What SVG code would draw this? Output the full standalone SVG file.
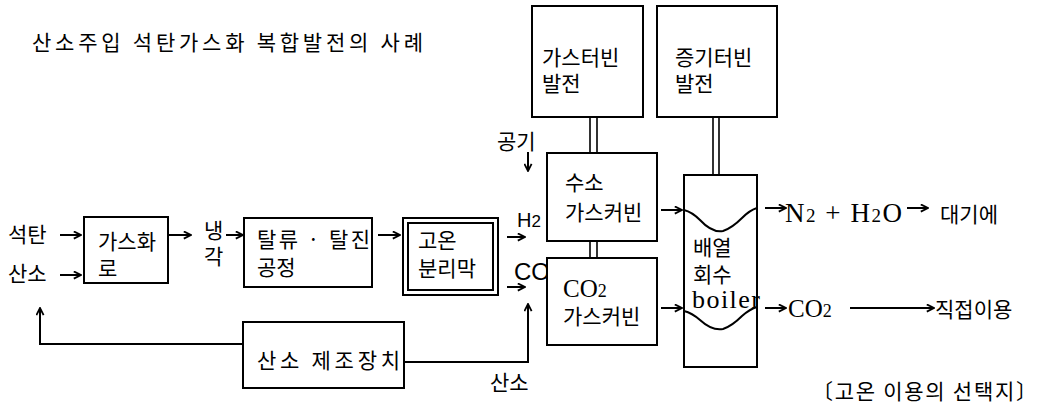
<svg xmlns="http://www.w3.org/2000/svg" width="1043" height="406" viewBox="0 0 1043 406">
<style>
.k{font-family:"Noto Sans CJK KR","Noto Sans",sans-serif;font-size:21px;fill:#000}
.s{font-family:"Liberation Serif",serif;fill:#000}
.a{font-family:"Liberation Sans",sans-serif;fill:#000}
.box{fill:#fff;stroke:#000;stroke-width:2}
.ln{fill:none;stroke:#000;stroke-width:2}
.ar{fill:none;stroke:#000;stroke-width:2;marker-end:url(#ah)}
.dl{fill:none;stroke:#000;stroke-width:1.6}
</style>
<defs>
<marker id="ah" viewBox="0 0 10 10" refX="9" refY="5" markerWidth="9" markerHeight="9" markerUnits="userSpaceOnUse" orient="auto">
<path d="M1,1 L9,5 L1,9" fill="none" stroke="#000" stroke-width="2"/>
</marker>
</defs>
<rect width="1043" height="406" fill="#fff"/>
<text class="k" x="32" y="50" font-size="18" textLength="391" lengthAdjust="spacing">산소주입 석탄가스화 복합발전의 사례</text>

<g id="connectors">
<path class="ar" d="M60,235 H81"/>
<path class="ar" d="M60,275 H81"/>
<path class="ar" d="M168,235 H191"/>
<path class="ar" d="M226,235 H243"/>
<path class="ar" d="M378,235 H400"/>
<path class="ar" d="M507,237 H525"/>
<path class="ar" d="M507,287 H525"/>
<path class="ar" d="M528,152 V171"/>
<path class="ar" d="M661,210 H682"/>
<path class="ar" d="M661,308 H682"/>
<path class="ar" d="M765,208 H786"/>
<path class="ar" d="M907,208 H928"/>
<path class="ar" d="M765,308 H786"/>
<path class="ar" d="M850,308 H934"/>
<path class="ar" d="M243,344 H40 V308"/>
<path class="ar" d="M404,362 H528 V304"/>
<path class="dl" d="M590,117 V153 M597,117 V153"/>
<path class="dl" d="M590,241 V258 M597,241 V258"/>
<path class="dl" d="M713,117 V175 M719,117 V175"/>
</g>

<g id="labels">
<text class="k" x="8" y="242">석탄</text>
<text class="k" x="8" y="281">산소</text>
<text class="k" x="204" y="238" font-size="20">냉<tspan x="204" dy="26">각</tspan></text>
<text class="k" x="497" y="149" font-size="18">공기</text>
<text class="a" x="517" y="227" font-size="20">H<tspan font-size="17">2</tspan></text>
<text class="a" x="514" y="280" font-size="24">CO</text>
<text class="k" x="490" y="390" font-size="20">산소</text>
<text class="s" x="785" y="222" font-size="27" textLength="117" lengthAdjust="spacing">N<tspan font-size="19">2</tspan> + H<tspan font-size="19">2</tspan>O</text>
<text class="k" x="940" y="222" font-size="23">대기에</text>
<text class="s" x="788" y="317" font-size="25">CO<tspan font-size="18">2</tspan></text>
<text class="k" x="935" y="317" font-size="23">직접이용</text>
<text class="k" x="812" y="399" font-size="17" textLength="225" lengthAdjust="spacing">〔고온 이용의 선택지〕</text>
</g>

<g id="n-gasifier">
<rect class="box" x="84" y="217" width="84" height="66"/>
<text class="k" x="98" y="249">가스화<tspan x="98" dy="27">로</tspan></text>
</g>

<g id="n-desulf">
<rect class="box" x="244" y="218" width="128" height="69"/>
<text class="k" x="257" y="247"><tspan textLength="113" lengthAdjust="spacing">탈류 · 탈진</tspan><tspan x="257" dy="28">공정</tspan></text>
</g>

<g id="n-membrane">
<rect class="box" x="403" y="218" width="95" height="77"/>
<rect class="box" x="408" y="223" width="85" height="67"/>
<text class="k" x="418" y="248">고온<tspan x="418" dy="28">분리막</tspan></text>
</g>

<g id="n-gt-power">
<rect class="box" x="532" y="6" width="111" height="111"/>
<text class="k" x="542" y="65" font-size="21.5">가스터빈<tspan x="542" dy="26">발전</tspan></text>
</g>

<g id="n-st-power">
<rect class="box" x="657" y="6" width="120" height="111"/>
<text class="k" x="675" y="65" font-size="22">증기터빈<tspan x="675" dy="26">발전</tspan></text>
</g>

<g id="n-h2-turbine">
<rect class="box" x="547" y="153" width="110" height="88"/>
<text class="k" x="565" y="190" font-size="22">수소<tspan x="565" dy="30">가스커빈</tspan></text>
</g>

<g id="n-co2-turbine">
<rect class="box" x="547" y="258" width="110" height="87"/>
<text class="s" x="563" y="297" font-size="25">CO<tspan font-size="18">2</tspan></text>
<text class="k" x="563" y="324" font-size="22">가스커빈</text>
</g>

<g id="n-boiler">
<rect class="box" x="684" y="175" width="73" height="192"/>
<path class="ln" d="M684,210 Q692,212 700,220 Q712,233 723,231 Q732,228 742,218 Q750,210 757,208"/>
<path class="ln" d="M684,311 Q692,313 700,320 Q712,331 723,329 Q732,326 742,316 Q750,309 757,307"/>
<text class="k" x="693" y="255">배열<tspan x="693" dy="27">회수</tspan></text>
<text class="s" x="692" y="308" font-size="26" textLength="68" lengthAdjust="spacing">boiler</text>
</g>

<g id="n-oxygen-plant">
<rect class="box" x="243" y="322" width="161" height="66"/>
<text class="k" x="257" y="368" textLength="143" lengthAdjust="spacing">산소 제조장치</text>
</g>
</svg>
